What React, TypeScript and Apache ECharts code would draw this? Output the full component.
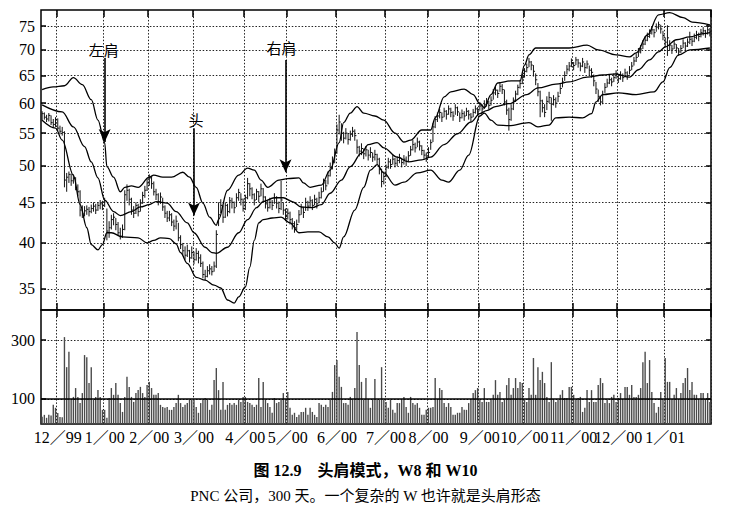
import React, { useEffect, useRef } from 'react';
import * as echarts from 'echarts';

const priceTicks = [35, 40, 45, 50, 55, 60, 65, 70, 75];
const volumeTicks = [100, 300];
const volumeAverage = 100;
const monthStarts = [7, 28, 48, 68, 91, 110, 132, 154, 173, 196, 216, 238, 258, 279];
const monthLabels = ['12／99', '1／00', '2／00', '3／00', '4／00', '5／00', '6／00', '7／00', '8／00', '9／00', '10／00', '11／00', '12／00', '1／01'];

const highs = [
  58.6, 58.4, 58.0, 58.3, 57.9, 57.3, 57.6, 57.4, 56.2, 56.0,
  55.3, 49.0, 49.2, 48.9, 48.8, 48.4, 47.4, 46.6, 44.6, 44.5,
  44.6, 44.4, 44.7, 45.0, 44.8, 45.0, 45.3, 45.2, 45.6, 44.2,
  42.6, 43.4, 43.6, 43.0, 42.5, 41.8, 42.2, 46.6, 47.4, 46.8,
  45.6, 44.5, 45.0, 44.8, 45.4, 46.4, 47.2, 48.2, 48.8, 48.5,
  47.8, 46.8, 46.2, 46.3, 45.6, 44.6, 43.9, 43.9, 43.6, 42.8,
  43.3, 42.4, 40.9, 40.0, 39.6, 39.8, 39.2, 39.6, 39.0, 39.4,
  39.1, 38.7, 37.9, 37.0, 37.4, 37.6, 37.4, 37.9, 41.5, 45.0,
  45.4, 44.6, 45.0, 44.8, 45.7, 45.6, 45.1, 46.2, 46.8, 46.2,
  45.5, 46.0, 48.3, 47.6, 47.0, 46.2, 46.8, 46.5, 47.5, 46.9,
  45.8, 45.2, 45.6, 45.3, 46.2, 45.8, 45.1, 47.9, 45.0, 44.2,
  44.2, 43.8, 43.0, 42.6, 42.8, 44.0, 44.8, 44.4, 45.6, 45.2,
  45.8, 45.4, 46.0, 45.6, 46.4, 47.0, 48.2, 48.0, 49.2, 50.5,
  51.4, 52.6, 56.4, 58.0, 56.6, 55.2, 55.8, 55.0, 55.4, 56.0,
  55.6, 54.0, 53.0, 53.4, 52.6, 53.0, 52.4, 52.8, 52.0, 52.4,
  51.8, 51.2, 49.6, 49.2, 50.2, 51.2, 51.0, 51.6, 51.2, 51.4,
  51.8, 51.2, 51.6, 51.4, 52.2, 53.0, 53.9, 53.5, 54.3, 53.8,
  53.1, 52.4, 52.0, 52.8, 54.0, 56.6, 57.8, 58.4, 59.0, 58.4,
  59.2, 58.8, 59.6, 59.2, 58.6, 59.8, 59.4, 58.4, 58.9, 58.6,
  59.2, 58.8, 58.3, 59.0, 59.6, 59.3, 60.2, 59.8, 60.5, 60.9,
  60.4, 61.2, 62.5, 63.0, 62.4, 63.8, 63.4, 62.4, 60.6, 59.2,
  59.8, 61.0, 62.2, 63.3, 64.2, 65.3, 66.4, 67.3, 68.4, 67.8,
  67.0, 65.4, 63.6, 62.2, 60.6, 59.8, 61.2, 62.0, 61.0, 61.4,
  61.0, 62.0, 63.4, 64.6, 65.8, 67.0, 67.6, 68.3, 67.6, 68.6,
  68.2, 67.5, 68.4, 67.4, 67.9, 66.9, 66.4, 65.2, 63.8, 62.4,
  61.2, 62.2, 63.6, 64.4, 65.0, 64.6, 65.4, 66.0, 65.2, 65.8,
  65.4, 66.3, 65.8, 66.8, 67.6, 68.6, 69.3, 70.4, 71.0, 72.0,
  72.8, 73.6, 74.3, 75.0, 74.4, 75.6, 76.0, 75.3, 74.0, 72.6,
  75.2, 72.0, 71.0, 72.0, 71.2, 70.4, 71.0, 72.2, 71.6, 72.4,
  73.8, 72.6, 73.4, 74.0, 73.6, 74.4, 74.8, 74.2, 75.4, 74.6,
];

const lows = [
  57.0, 57.2, 56.8, 56.9, 56.3, 55.9, 56.0, 55.4, 54.8, 54.6,
  47.0, 46.4, 47.6, 47.2, 47.5, 46.6, 45.8, 43.2, 43.0, 43.2,
  43.4, 43.2, 43.6, 43.8, 43.5, 43.9, 44.1, 44.0, 44.4, 40.3,
  40.6, 41.6, 42.1, 41.5, 40.8, 40.4, 40.6, 41.5, 45.2, 44.6,
  43.4, 43.0, 43.5, 43.2, 43.8, 44.8, 45.6, 46.5, 47.2, 46.8,
  45.9, 45.3, 44.6, 44.8, 43.9, 43.0, 42.5, 42.6, 42.0, 41.4,
  41.6, 40.2, 39.3, 38.6, 38.1, 38.4, 37.8, 38.2, 37.6, 38.0,
  37.7, 37.3, 36.1, 35.9, 36.2, 36.5, 36.4, 36.8, 37.2, 42.0,
  43.6, 42.4, 43.0, 43.2, 43.6, 44.2, 43.6, 44.4, 45.2, 44.6,
  43.8, 44.0, 45.4, 45.8, 45.4, 44.6, 45.3, 45.0, 45.8, 45.0,
  44.2, 43.8, 44.2, 44.0, 44.8, 44.2, 43.6, 44.0, 43.4, 42.6,
  42.8, 42.2, 41.6, 41.2, 41.5, 42.4, 43.4, 43.0, 43.9, 43.9,
  44.4, 44.0, 44.6, 44.2, 44.9, 45.5, 46.4, 46.6, 47.4, 48.5,
  49.5, 50.4, 51.8, 54.8, 53.8, 53.4, 54.0, 53.2, 53.8, 54.4,
  53.8, 51.8, 51.4, 51.6, 51.0, 51.4, 50.8, 51.2, 50.6, 50.8,
  50.2, 48.8, 47.0, 47.4, 48.4, 49.6, 49.6, 50.2, 49.8, 50.0,
  50.4, 49.8, 50.2, 50.0, 50.6, 51.5, 52.3, 52.0, 52.8, 52.3,
  51.6, 50.9, 50.6, 51.2, 52.4, 53.6, 55.8, 56.8, 57.4, 56.8,
  57.6, 57.2, 58.0, 57.6, 57.0, 58.0, 57.8, 56.8, 57.4, 57.0,
  57.8, 57.2, 56.9, 57.6, 58.2, 57.9, 58.7, 58.3, 59.0, 59.4,
  58.9, 59.6, 60.6, 61.4, 60.9, 62.0, 61.6, 59.6, 58.0, 55.4,
  57.0, 58.8, 60.2, 61.4, 62.6, 63.4, 64.6, 65.6, 66.6, 66.0,
  64.8, 63.2, 61.2, 57.6, 58.4, 57.6, 58.8, 60.0, 57.0, 59.6,
  59.2, 60.2, 61.6, 62.8, 64.0, 65.2, 65.8, 66.6, 66.0, 67.0,
  66.5, 65.8, 66.6, 65.5, 66.3, 65.0, 64.6, 63.0, 61.6, 60.2,
  59.6, 59.8, 61.8, 62.8, 63.4, 63.0, 63.8, 64.4, 63.6, 64.2,
  63.8, 64.7, 64.2, 65.2, 66.0, 66.9, 67.6, 68.6, 69.3, 70.2,
  71.0, 71.8, 72.5, 73.2, 72.6, 73.8, 74.3, 73.4, 72.0, 70.6,
  68.8, 69.8, 69.2, 70.2, 69.4, 68.8, 69.4, 70.4, 69.9, 70.6,
  71.2, 70.8, 71.6, 72.2, 71.8, 72.6, 73.0, 72.5, 73.2, 72.8,
];

const closes = [
  58.2, 57.6, 57.3, 57.9, 56.7, 56.4, 57.2, 55.8, 55.3, 55.1,
  48.0, 48.4, 48.8, 47.9, 48.2, 47.0, 46.4, 44.0, 43.5, 43.9,
  44.1, 43.8, 44.2, 44.5, 44.0, 44.6, 44.8, 44.6, 45.2, 41.4,
  41.8, 42.8, 43.1, 42.2, 41.2, 40.8, 41.6, 46.0, 46.6, 45.4,
  44.0, 43.6, 44.6, 43.8, 44.9, 45.9, 46.6, 47.6, 48.3, 47.5,
  46.4, 46.0, 45.1, 45.7, 44.4, 43.6, 43.0, 43.4, 42.5, 42.0,
  42.6, 40.6, 39.8, 39.1, 38.6, 39.1, 38.3, 38.9, 38.1, 38.8,
  38.3, 37.7, 36.5, 36.3, 36.9, 37.1, 36.8, 37.4, 41.0, 43.4,
  44.6, 43.1, 44.6, 43.8, 45.2, 45.0, 44.3, 45.6, 46.3, 45.4,
  44.2, 45.6, 47.5, 46.8, 46.0, 45.3, 46.4, 45.8, 46.8, 45.7,
  44.8, 44.3, 45.0, 44.6, 45.6, 44.9, 44.2, 45.3, 44.0, 43.2,
  43.6, 42.8, 42.3, 41.8, 42.2, 43.4, 44.3, 43.7, 45.0, 44.5,
  45.2, 44.6, 45.4, 44.8, 45.6, 46.4, 47.6, 47.2, 48.6, 49.8,
  50.6, 52.0, 55.5, 56.8, 55.0, 54.2, 55.0, 54.0, 54.8, 55.3,
  54.6, 52.8, 52.2, 52.6, 51.8, 52.4, 51.6, 52.0, 51.3, 51.7,
  51.0, 49.5, 47.8, 48.5, 49.8, 50.6, 50.2, 51.0, 50.4, 50.8,
  51.2, 50.5, 51.0, 50.7, 51.5, 52.4, 53.2, 52.7, 53.6, 53.0,
  52.3, 51.6, 51.2, 52.0, 53.5, 56.0, 57.2, 57.8, 58.4, 57.6,
  58.6, 58.1, 59.0, 58.4, 57.8, 59.2, 58.5, 57.5, 58.2, 57.8,
  58.6, 58.0, 57.6, 58.4, 59.0, 58.6, 59.5, 59.0, 59.8, 60.2,
  59.6, 60.5, 61.8, 62.3, 61.7, 63.0, 62.4, 60.2, 58.8, 57.2,
  59.0, 60.5, 61.6, 62.8, 63.5, 64.6, 65.8, 66.5, 67.6, 67.0,
  65.8, 64.2, 62.0, 60.4, 59.2, 58.4, 60.3, 61.0, 59.8, 60.6,
  60.0, 61.2, 62.6, 63.8, 65.0, 66.2, 66.8, 67.5, 66.9, 68.0,
  67.4, 66.8, 67.6, 66.5, 67.2, 66.0, 65.6, 64.0, 62.5, 61.2,
  60.2, 61.5, 62.8, 63.6, 64.2, 63.8, 64.6, 65.2, 64.4, 65.0,
  64.6, 65.5, 65.0, 66.0, 66.8, 67.8, 68.5, 69.6, 70.2, 71.2,
  72.0, 72.8, 73.5, 74.2, 73.6, 74.8, 75.3, 74.4, 73.0, 71.6,
  72.5, 71.0, 70.2, 71.2, 70.4, 69.6, 70.3, 71.4, 70.8, 71.6,
  72.2, 71.8, 72.6, 73.2, 72.8, 73.6, 74.0, 73.4, 74.2, 73.8,
];

const volumes = [
  40, 46, 36, 46, 44, 80, 70, 52, 39, 38,
  310, 208, 260, 97,
  107, 137, 107, 86, 120, 249, 242, 154, 208, 97,
  107, 130, 107, 63, 63, 36, 103, 137, 114, 154,
  114, 86, 56, 107, 175, 141, 107, 90, 120, 130,
  141, 120, 107, 147, 158, 137, 114, 114, 120, 80,
  73, 70, 73, 63, 63, 73, 86, 114,
  86, 73, 80, 86, 97, 97, 97, 73, 53,
  86, 97, 103, 97, 63, 80, 164, 205, 130, 63,
  158, 63, 80, 86, 80, 86, 80, 97, 90, 107,
  107, 90, 86, 80, 73, 80, 171, 73, 158, 97,
  86, 73, 53, 103, 86, 90, 97, 120, 97, 124,
  70, 46, 53, 39, 46, 56, 56, 70, 46, 70,
  56, 46, 39, 86, 80, 73, 80, 73, 97, 124,
  215, 232, 175, 141, 86, 86, 80, 107, 97, 137,
  327, 215, 158, 97, 171, 97, 70, 97, 168, 97,
  97, 208, 97, 90, 70, 97, 63, 53, 86, 86,
  97, 107, 73, 53, 107, 86, 80, 86, 70, 46,
  46, 63, 70, 70, 73, 171, 97, 137, 130, 86,
  73, 86, 73, 46, 46, 53, 53, 73, 63, 63,
  86, 97, 120, 130, 137, 97, 90, 137, 90, 90,
  97, 114, 164, 114, 124, 90, 97, 147, 171, 114,
  137, 171, 137, 158, 154, 97, 90, 137, 114, 239,
  114, 208, 164, 192, 154, 107, 90, 225, 97, 90,
  97, 114, 130, 103, 103, 141, 141, 114, 97, 103,
  107, 56, 70, 130, 90, 130, 90, 90, 147, 171,
  154, 86, 97, 86, 107, 114, 90, 103, 120, 97,
  141, 141, 114, 147, 107, 107, 114, 137, 225, 260,
  154, 232, 124, 86, 53, 73, 124, 97, 239, 158,
  158, 97, 114, 137, 97, 120, 154, 171, 205, 130,
  158, 114, 114, 97, 120, 120, 97, 120, 90,
];

const upperBand = [
  [0, 62.4], [5, 62.9], [10, 63.1], [14, 64.6], [18, 63.3], [22, 60.6], [25, 57.1], [28, 53.5], [29, 49.9],
  [32, 48.4], [35, 46.4], [37, 47.0], [40, 47.2], [43, 47.0], [48, 48.4], [50, 48.7], [54, 48.4], [58, 48.4],
  [63, 49.1], [66, 48.4], [69, 47.0], [72, 44.9], [75, 43.1], [78, 42.1], [79, 42.8], [83, 46.6], [88, 48.7],
  [92, 49.7], [95, 49.4], [98, 48.0], [101, 47.0], [106, 48.0], [110, 48.2], [115, 48.3], [117, 47.6],
  [120, 47.0], [125, 47.3], [129, 49.4], [133, 53.5], [135, 56.7], [138, 58.3], [141, 59.4], [144, 58.3],
  [149, 57.8], [153, 57.1], [158, 55.0], [162, 53.6], [165, 53.9], [170, 55.5], [174, 55.5], [176, 57.5],
  [180, 61.1], [183, 62.0], [189, 62.5], [193, 61.5], [196, 59.9], [198, 59.2], [201, 61.5], [204, 63.6],
  [210, 64.0], [214, 64.0], [216, 67.0], [218, 69.0], [221, 70.4], [230, 70.4], [236, 70.4], [244, 71.0],
  [249, 70.0], [257, 69.0], [263, 68.6], [266, 69.4], [271, 73.1], [276, 77.5], [281, 78.0], [287, 76.9],
  [291, 75.9], [299, 75.3],
];

const middleBand = [
  [0, 59.7], [9, 58.5], [14, 56.0], [19, 52.9], [22, 50.6], [25, 48.3], [28, 45.3], [32, 43.8], [35, 43.3],
  [40, 43.8], [44, 44.4], [48, 44.7], [51, 45.1], [56, 44.9], [60, 43.8], [65, 42.4], [68, 41.2], [73, 39.5],
  [76, 38.9], [78, 38.8], [83, 39.5], [88, 41.2], [92, 42.8], [96, 44.3], [99, 45.1], [104, 45.6], [108, 45.6],
  [112, 45.1], [116, 44.4], [121, 44.3], [125, 44.7], [129, 46.2], [134, 48.0], [138, 49.9], [143, 51.9],
  [146, 53.2], [150, 53.5], [153, 52.7], [159, 51.3], [164, 50.6], [170, 50.9], [174, 51.3], [180, 53.2],
  [186, 54.9], [192, 56.8], [196, 58.2], [199, 58.7], [203, 59.4], [209, 59.9], [217, 61.5], [222, 62.7],
  [230, 63.4], [236, 63.8], [244, 64.7], [251, 65.1], [257, 65.3], [263, 64.7], [267, 66.1], [272, 68.0],
  [276, 69.6], [279, 70.6], [284, 72.1], [290, 72.7], [296, 73.4], [299, 73.6],
];

const lowerBand = [
  [0, 57.1], [6, 55.8], [9, 53.9], [14, 48.7], [17, 44.7], [20, 41.8], [22, 39.8], [25, 39.2], [27, 39.8],
  [29, 41.2], [31, 41.2], [36, 40.7], [43, 40.6], [47, 40.0], [50, 40.3], [53, 40.6], [57, 40.5], [60, 39.9],
  [62, 38.9], [65, 37.7], [69, 36.2], [73, 35.9], [77, 35.4], [80, 35.1], [83, 33.9], [86, 33.6], [88, 34.2],
  [91, 35.2], [93, 37.3], [95, 40.3], [97, 42.4], [99, 42.8], [103, 43.0], [107, 43.1], [111, 42.4],
  [115, 41.2], [119, 41.3], [124, 41.3], [128, 40.7], [131, 40.0], [133, 39.4], [135, 40.7], [140, 44.0],
  [144, 47.0], [147, 49.4], [150, 50.2], [153, 49.0], [158, 47.3], [162, 47.7], [168, 49.0], [174, 49.4],
  [179, 48.0], [182, 47.7], [187, 49.4], [191, 51.6], [196, 57.8], [198, 58.3], [201, 57.1], [204, 56.3],
  [209, 56.2], [218, 56.7], [222, 56.0], [227, 56.3], [230, 57.5], [236, 57.6], [242, 57.5], [246, 58.2],
  [248, 60.2], [251, 61.5], [258, 61.8], [266, 61.5], [274, 62.0], [278, 63.8], [281, 66.5], [285, 69.0],
  [290, 70.0], [299, 70.4],
];

// pattern annotations, in data units: day index, arrow start / tip price, label price
const annotations = [
  { text: '左肩', day: 28, from: 68.4, to: 53.6, labelAt: 70.0, dx: -1 },
  { text: '头', day: 68, from: 55.8, to: 43.3, labelAt: 57.2, dx: 2 },
  { text: '右肩', day: 109, from: 68.0, to: 49.1, labelAt: 70.4, dx: -4 },
];

const captionTitle = '图 12.9　头肩模式，W8 和 W10';
const captionNote = 'PNC 公司，300 天。一个复杂的 W 也许就是头肩形态';

export default function App() {
  const ref = useRef<HTMLDivElement>(null);

  useEffect(() => {
    if (!ref.current) return;
    const chart = echarts.init(ref.current, undefined, { renderer: 'svg' });
    const ln = Math.log;
    const days = closes.map((_, i) => String(i));
    const monthSet = new Set(monthStarts);
    const labelOf: Record<number, string> = {};
    monthStarts.forEach((d, i) => { labelOf[d] = monthLabels[i]; });
    const isMonth = (index: number) => monthSet.has(index);
    const dotted = { color: '#222', width: 1, type: [1.5, 1.8] };
    const tickStyle = { color: '#000', width: 1.5 };
    const serif = "'Liberation Serif', 'Times New Roman', 'Noto Sans CJK SC', serif";
    const priceMin = ln(32.93);
    const priceMax = ln(78.6);
    const lnTicks = priceTicks.map(ln);
    const volMin = 15;
    const volMax = 402;

    const catBase = { type: 'category', data: days, boundaryGap: true, axisLine: { show: false } };
    const monthTick = { show: true, inside: true, length: 7, interval: isMonth, lineStyle: tickStyle };

    const bandSeries = (name: string, pts: number[][], extra: any = {}) => ({
      name,
      type: 'line',
      xAxisIndex: 0,
      yAxisIndex: 0,
      data: pts.map(([d, v]) => [d, ln(v)]),
      symbol: 'none',
      smooth: 0.35,
      smoothMonotone: 'x',
      lineStyle: { color: '#000', width: 1.3 },
      z: 4,
      silent: true,
      ...extra,
    });

    chart.setOption({
      animation: false,
      backgroundColor: '#fff',
      title: [
        {
          text: captionTitle, left: 'center', top: 462, padding: 0,
          textStyle: { fontSize: 16, fontWeight: 'bold', color: '#000', fontFamily: serif },
        },
        {
          text: captionNote, left: 'center', top: 488, padding: 0,
          textStyle: { fontSize: 15, fontWeight: 'normal', color: '#000', fontFamily: serif },
        },
      ],
      grid: [
        { left: 41, top: 10, width: 670, height: 300, show: true, borderColor: '#000', borderWidth: 1.5, backgroundColor: 'transparent' },
        { left: 41, top: 310, width: 670, height: 114, show: true, borderColor: '#000', borderWidth: 1.5, backgroundColor: 'transparent' },
      ],
      xAxis: [
        { ...catBase, gridIndex: 0, position: 'bottom', axisTick: monthTick, axisLabel: { show: false },
          splitLine: { show: true, interval: isMonth, lineStyle: dotted } },
        { ...catBase, gridIndex: 0, position: 'top', axisTick: monthTick, axisLabel: { show: false }, splitLine: { show: false } },
        { ...catBase, gridIndex: 1, position: 'top', axisTick: monthTick, axisLabel: { show: false },
          splitLine: { show: true, interval: isMonth, lineStyle: dotted } },
        { ...catBase, gridIndex: 1, position: 'bottom', axisTick: { show: false }, splitLine: { show: false },
          axisLabel: {
            show: true, interval: isMonth, margin: 5, fontSize: 16, color: '#000', fontFamily: serif,
            formatter: (_v: string, i: number) => labelOf[i] ?? '',
          } },
      ],
      yAxis: [
        { type: 'value', gridIndex: 0, min: priceMin, max: priceMax, position: 'left', axisLine: { show: false },
          axisTick: { show: true, inside: true, length: 5, customValues: lnTicks, lineStyle: tickStyle },
          axisLabel: { customValues: lnTicks, formatter: (v: number) => String(Math.round(Math.exp(v))), fontSize: 16, color: '#000', fontFamily: serif, margin: 6 },
          splitLine: { show: true, lineStyle: dotted } },
        { type: 'value', gridIndex: 0, min: priceMin, max: priceMax, position: 'right', axisLine: { show: false },
          axisTick: { show: true, inside: true, length: 5, customValues: lnTicks, lineStyle: tickStyle },
          axisLabel: { show: false }, splitLine: { show: false } },
        { type: 'value', gridIndex: 1, min: volMin, max: volMax, position: 'left', axisLine: { show: false },
          axisTick: { show: true, inside: true, length: 5, customValues: volumeTicks, lineStyle: tickStyle },
          axisLabel: { customValues: volumeTicks, fontSize: 16, color: '#000', fontFamily: serif, margin: 6 },
          splitLine: { show: true, lineStyle: dotted } },
        { type: 'value', gridIndex: 1, min: volMin, max: volMax, position: 'right', axisLine: { show: false },
          axisTick: { show: true, inside: true, length: 5, customValues: volumeTicks, lineStyle: tickStyle },
          axisLabel: { show: false }, splitLine: { show: false } },
      ],
      series: [
        {
          name: 'PNC',
          type: 'custom',
          xAxisIndex: 0,
          yAxisIndex: 0,
          silent: true,
          z: 3,
          data: closes.map((c, i) => [i, ln(highs[i]), ln(lows[i]), ln(c)]),
          encode: { x: 0, y: [1, 2, 3] },
          renderItem: (_params: any, api: any) => {
            const x = api.value(0);
            const hi = api.coord([x, api.value(1)]);
            const lo = api.coord([x, api.value(2)]);
            const cl = api.coord([x, api.value(3)]);
            return {
              type: 'group',
              children: [
                { type: 'line', shape: { x1: hi[0], y1: hi[1], x2: lo[0], y2: lo[1] }, style: { stroke: '#111', lineWidth: 1 } },
                { type: 'line', shape: { x1: cl[0], y1: cl[1], x2: cl[0] + 1.6, y2: cl[1] }, style: { stroke: '#111', lineWidth: 1 } },
              ],
            };
          },
        },
        bandSeries('upper', upperBand),
        bandSeries('middle', middleBand, {
          markLine: {
            silent: true,
            animation: false,
            label: { show: false },
            lineStyle: { color: '#000', width: 1.6, type: 'solid' },
            data: annotations.map((a) => [
              { coord: [String(a.day), ln(a.from)], symbol: 'none' },
              { coord: [String(a.day), ln(a.to)], symbol: 'arrow', symbolSize: [9, 13] },
            ]),
          },
          markPoint: {
            silent: true,
            animation: false,
            symbol: 'rect',
            symbolSize: 1,
            itemStyle: { color: 'rgba(0,0,0,0)' },
            label: { show: true, position: 'inside', formatter: '{b}', color: '#000', fontSize: 15, fontFamily: "'Noto Sans CJK SC', sans-serif" },
            data: annotations.map((a) => ({ name: a.text, coord: [String(a.day), ln(a.labelAt)], label: { offset: [a.dx, 0] } })),
          },
        }),
        bandSeries('lower', lowerBand),
        {
          name: 'volume',
          type: 'bar',
          xAxisIndex: 3,
          yAxisIndex: 2,
          data: volumes,
          barWidth: '62%',
          silent: true,
          itemStyle: { color: '#4a4a4a' },
          markLine: {
            silent: true,
            animation: false,
            symbol: ['none', 'none'],
            label: { show: false },
            lineStyle: { color: '#000', width: 1.5, type: 'solid' },
            data: [{ yAxis: volumeAverage }],
          },
        },
      ],
    });

    return () => chart.dispose();
  }, []);

  return <div ref={ref} style={{ position: 'fixed', left: 0, top: 0, width: 731, height: 512, background: '#fff' }} />;
}
